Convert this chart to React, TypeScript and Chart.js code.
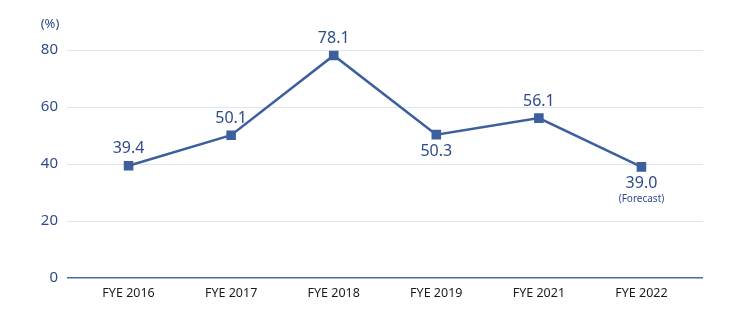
import React, { useEffect, useRef } from "react";
import { Chart, registerables } from "chart.js";

Chart.register(...registerables);

const categories = ["FYE 2016", "FYE 2017", "FYE 2018", "FYE 2019", "FYE 2021", "FYE 2022"];
const values = [39.4, 50.1, 78.1, 50.3, 56.1, 39.0];
const labelPos = ["above", "above", "above", "below", "above", "below"];
const yTicks = [0, 20, 40, 60, 80];
const unitLabel = "(%)";
const forecastNote = "(Forecast)";

const BLUE = "#3d5f9e";
const TEXT_BLUE = "#2f4c8a";
const GRID = "#dfe5ef";
const FONT = "'Noto Sans', 'Open Sans', sans-serif";

export default function App() {
  const ref = useRef<HTMLCanvasElement | null>(null);
  useEffect(() => {
    document.body.style.margin = "0";
    const canvas = ref.current!;
    const labelsPlugin = {
      id: "valueLabels",
      afterDatasetsDraw(chart: any) {
        const ctx = chart.ctx;
        const meta = chart.getDatasetMeta(0);
        ctx.save();
        ctx.fillStyle = TEXT_BLUE;
        ctx.textAlign = "center";
        ctx.textBaseline = "middle";
        meta.data.forEach((pt: any, i: number) => {
          ctx.font = `16px ${FONT}`;
          const above = labelPos[i] === "above";
          const y = above ? pt.y - 17 : pt.y + 17;
          ctx.fillText(values[i].toFixed(1), pt.x, y);
          if (i === values.length - 1) {
            ctx.font = `10px ${FONT}`;
            ctx.fillText(forecastNote, pt.x, y + 15);
          }
        });
        ctx.font = `13px ${FONT}`;
        ctx.textAlign = "center";
        ctx.fillText(unitLabel, 50, 24);
        ctx.restore();
      },
    };
    const chart = new Chart(canvas, {
      type: "line",
      data: {
        datasets: [
          {
            data: values.map((v, i) => ({ x: i, y: v })),
            borderColor: BLUE,
            backgroundColor: BLUE,
            borderWidth: 2.5,
            pointStyle: "rect",
            pointRadius: 5,
            pointHoverRadius: 5,
            tension: 0,
            clip: false as any,
          },
        ],
      },
      options: {
        animation: false,
        responsive: false,
        layout: { padding: { top: 50, right: 37, left: 0, bottom: 0 } },
        plugins: { legend: { display: false }, tooltip: { enabled: false } },
        scales: {
          x: {
            type: "linear",
            min: -0.6,
            max: 5.6,
            grid: { display: false, drawTicks: false },
            border: { display: false },
            afterBuildTicks: (scale: any) => {
              scale.ticks = categories.map((_, i) => ({ value: i }));
            },
            afterFit: (scale: any) => {
              scale.height = 43;
            },
            ticks: {
              padding: 8,
              color: "#1a1a1a",
              font: { family: FONT, size: 12.5 },
              maxRotation: 0,
              callback: (v: any) => categories[v] ?? "",
            },
          },
          y: {
            min: 0,
            max: 80,
            afterBuildTicks: (scale: any) => {
              scale.ticks = yTicks.map((v) => ({ value: v }));
            },
            afterFit: (scale: any) => {
              scale.width = 67;
            },
            grid: {
              drawTicks: false,
              lineWidth: (c: any) => (c.tick && c.tick.value === 0 ? 1.5 : 1),
              color: (c: any) => (c.tick && c.tick.value === 0 ? "#4a6aa8" : GRID),
            },
            border: { display: false },
            ticks: {
              padding: 9,
              color: TEXT_BLUE,
              font: { family: FONT, size: 15 },
            },
          },
        },
      },
      plugins: [labelsPlugin],
    } as any);
    return () => chart.destroy();
  }, []);
  return (
    <div style={{ position: "absolute", left: 0, top: 0, width: 740, height: 321, background: "#fff" }}>
      <canvas ref={ref} width={740} height={321} style={{ width: 740, height: 321 }} />
    </div>
  );
}
